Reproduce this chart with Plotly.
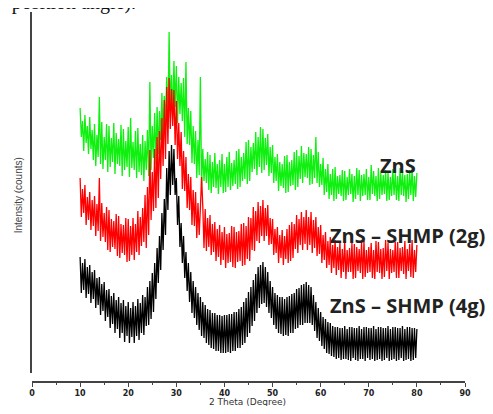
import numpy as np
import plotly.graph_objects as go

# 2-theta sampling grid (degrees), 0.25 degree steps
two_theta = np.arange(10, 80.01, 0.25)

# Intensity (arbitrary counts, offset stacked); 4 values per degree
zns = [
    265, 236, 252, 222,  258, 230, 247, 219,  256, 224, 243, 213,  249, 207, 238, 216,
    276, 209, 251, 204,  236, 213, 249, 201,  247, 206, 235, 211,  250, 199, 240, 209,
    234, 207, 248, 197,  244, 203, 232, 206,  246, 196, 255, 205,  231, 203, 242, 195,
    245, 201, 229, 198,  238, 192, 232, 203,  243, 197, 291, 203,  247, 215, 260, 209,
    266, 219, 262, 233,  280, 231, 277, 249,  296, 245, 341, 262,  298, 255, 312, 266,
    307, 250, 296, 259,  290, 252, 295, 236,  311, 229, 265, 228,  262, 210, 247, 209,
    242, 195, 233, 198,  296, 188, 224, 192,  214, 190, 221, 183,  218, 180, 211, 186,
    220, 185, 209, 179,  213, 186, 219, 180,  209, 181, 216, 186,  221, 183, 210, 187,
    213, 189, 222, 184,  224, 186, 216, 192,  220, 194, 231, 189,  233, 192, 226, 201,
    230, 204, 241, 198,  236, 206, 246, 200,  244, 203, 235, 208,  239, 197, 226, 200,
    228, 190, 216, 192,  219, 182, 211, 187,  209, 185, 217, 180,  218, 181, 211, 187,
    213, 188, 221, 183,  223, 186, 217, 194,  227, 190, 220, 196,  219, 195, 226, 188,
    224, 189, 218, 195,  236, 190, 221, 186,  209, 188, 215, 178,  204, 181, 209, 174,
    199, 178, 204, 172,  206, 174, 197, 179,  198, 177, 203, 172,  202, 173, 196, 178,
    204, 179, 199, 171,  197, 174, 205, 178,  203, 172, 198, 177,  199, 178, 204, 173,
    196, 173, 208, 179,  202, 177, 197, 172,  205, 174, 200, 178,  198, 179, 203, 172,
    201, 173, 196, 177,  204, 178, 200, 173,  197, 172, 205, 178,  202, 177, 198, 171,
    199, 174, 203, 178,  205, 172, 197, 176,
    200,
]

zns_shmp_2g = [
    195, 156, 184, 160,  188, 148, 176, 153,  181, 143, 173, 147,  177, 137, 169, 142,
    195, 132, 170, 136,  160, 131, 166, 123,  163, 121, 154, 126,  152, 124, 159, 117,
    157, 115, 149, 120,  148, 118, 155, 111,  154, 112, 147, 118,  155, 113, 149, 121,
    162, 118, 156, 127,  165, 131, 178, 125,  186, 138, 223, 153,  201, 162, 224, 165,
    236, 175, 242, 194,  255, 207, 273, 214,  286, 229, 295, 244,  284, 247, 283, 228,
    272, 214, 250, 207,  241, 184, 222, 182,  216, 165, 199, 163,  196, 148, 183, 147,
    181, 135, 170, 138,  165, 196, 167, 125,  164, 122, 155, 126,  158, 118, 149, 121,
    151, 112, 144, 116,  148, 108, 141, 113,  146, 105, 139, 110,  140, 111, 147, 106,
    146, 105, 141, 111,  142, 112, 149, 107,  150, 108, 147, 114,  156, 112, 155, 123,
    166, 122, 162, 132,  171, 130, 167, 137,  173, 132, 165, 137,  168, 128, 155, 129,
    154, 118, 144, 120,  146, 110, 138, 115,  143, 108, 137, 114,  144, 110, 148, 112,
    151, 115, 149, 124,  158, 120, 154, 128,  161, 123, 156, 129,  163, 123, 156, 128,
    161, 120, 153, 125,  156, 117, 146, 119,  148, 110, 138, 113,  141, 105, 132, 108,
    136, 100, 128, 105,  133, 98, 126, 103,  131, 95, 124, 101,  132, 94, 123, 101,
    125, 101, 130, 94,  129, 95, 126, 102,  124, 100, 131, 94,  132, 96, 123, 100,
    126, 101, 130, 95,  123, 94, 132, 101,  131, 100, 124, 94,  125, 96, 133, 102,
    130, 94, 124, 100,  123, 101, 131, 95,  131, 95, 125, 102,  126, 99, 132, 94,
    124, 102, 129, 96,  133, 95, 123, 101,
    128,
]

zns_shmp_4g = [
    116, 80, 110, 83,  114, 75, 106, 79,  108, 70, 101, 74,  103, 65, 95, 68,
    96, 58, 89, 62,  91, 52, 83, 56,  84, 45, 77, 49,  80, 40, 73, 44,
    76, 35, 70, 40,  73, 31, 67, 37,  71, 30, 65, 36,  71, 30, 67, 37,
    74, 33, 70, 40,  78, 38, 76, 47,  86, 48, 92, 54,  100, 61, 110, 74,
    125, 90, 137, 103,  160, 123, 174, 138,  205, 163, 222, 178,  228, 188, 224, 178,
    195, 148, 177, 126,  150, 110, 137, 95,  121, 82, 110, 71,  101, 60, 92, 55,
    86, 48, 80, 43,  76, 37, 71, 35,  68, 30, 64, 28,  63, 25, 60, 24,
    60, 22, 58, 22,  58, 20, 57, 20,  58, 20, 58, 21,  59, 20, 59, 22,
    61, 22, 61, 25,  64, 25, 66, 28,  71, 30, 75, 36,  81, 40, 86, 47,
    93, 52, 99, 60,  106, 65, 108, 69,  111, 70, 106, 66,  101, 60, 92, 55,
    86, 48, 80, 44,  78, 40, 76, 39,  76, 37, 74, 38,  76, 37, 77, 40,
    79, 40, 80, 44,  84, 45, 85, 48,  88, 48, 89, 50,  91, 50, 88, 50,
    86, 48, 78, 42,  71, 35, 65, 32,  61, 27, 56, 24,  54, 20, 51, 19,
    50, 17, 47, 16,  46, 14, 46, 15,  45, 13, 45, 14,  47, 14, 44, 13,
    46, 12, 46, 15,  45, 13, 45, 12,  47, 14, 44, 14,  46, 12, 46, 15,
    45, 13, 45, 14,  47, 12, 44, 13,  46, 14, 46, 12,  45, 13, 45, 15,
    47, 12, 44, 13,  46, 14, 46, 12,  45, 13, 45, 15,  47, 12, 44, 13,
    46, 14, 46, 12,  45, 13, 45, 15,
    44,
]

assert len(zns) == len(two_theta) == len(zns_shmp_2g) == len(zns_shmp_4g)

series_names = ["ZnS", "ZnS \u2013 SHMP (2g)", "ZnS \u2013 SHMP (4g)"]
series_values = [zns, zns_shmp_2g, zns_shmp_4g]
series_colors = ["#10f010", "#ff0000", "#000000"]

x_ticks = [0, 10, 20, 30, 40, 50, 60, 70, 80, 90]
x_tick_labels = ["0", "10", "20", "30", "40", "50", "60", "70", "80", "90"]

fig = go.Figure()
for name, vals, col in zip(series_names, series_values, series_colors):
    fig.add_trace(go.Scatter(
        x=two_theta, y=vals, mode="lines", name=name,
        line=dict(color=col, width=1.3), showlegend=False,
    ))

label_pos = [(0.799, 0.585), (0.684, 0.395), (0.684, 0.208)]
for name, (px, py) in zip(series_names, label_pos):
    fig.add_annotation(
        text=name, xref="paper", yref="paper", x=px, y=py,
        xanchor="left", yanchor="middle", showarrow=False,
        font=dict(family="Open Sans", size=20, color="#222222", weight="bold"),
    )

# Y-axis title
fig.add_annotation(
    text="Intensity (counts)", xref="paper", yref="paper", x=-0.032, y=0.505,
    textangle=-90, showarrow=False, xanchor="center", yanchor="middle",
    font=dict(family="Liberation Sans", size=10, color="#444444"),
)
# X-axis title
fig.add_annotation(
    text="2 Theta (Degree)", xref="paper", yref="paper", x=0.497, y=-0.054,
    showarrow=False, xanchor="center", yanchor="middle",
    font=dict(family="DejaVu Sans", size=9, color="#333333"),
)
# Cut-off caption text at top
fig.add_annotation(
    text="r position angle).", xref="paper", yref="paper", x=-0.079, y=0.989,
    showarrow=False, xanchor="left", yanchor="bottom",
    font=dict(family="Liberation Serif", size=20, color="#111111"),
)

fig.update_layout(
    width=485, height=398,
    margin=dict(l=24, r=28, t=4, b=24),
    paper_bgcolor="white", plot_bgcolor="white",
    xaxis=dict(
        range=[0, 90], anchor="free", position=0,
        showline=True, linecolor="#444444", linewidth=1.5,
        showgrid=False, zeroline=False,
        ticks="outside", ticklen=4, tickwidth=1.2, tickcolor="#444444",
        tickvals=x_ticks, ticktext=x_tick_labels,
        tickfont=dict(family="DejaVu Sans", size=8, color="#222222", weight="bold"),
        minor=dict(dtick=5, ticks="outside", ticklen=2, tickcolor="#444444"),
    ),
    yaxis=dict(
        range=[0, 361], domain=[9 / 370, 1],
        showline=True, linecolor="#444444", linewidth=1.5,
        showgrid=False, zeroline=False, showticklabels=False, ticks="",
    ),
)

fig.write_html("out.html")
